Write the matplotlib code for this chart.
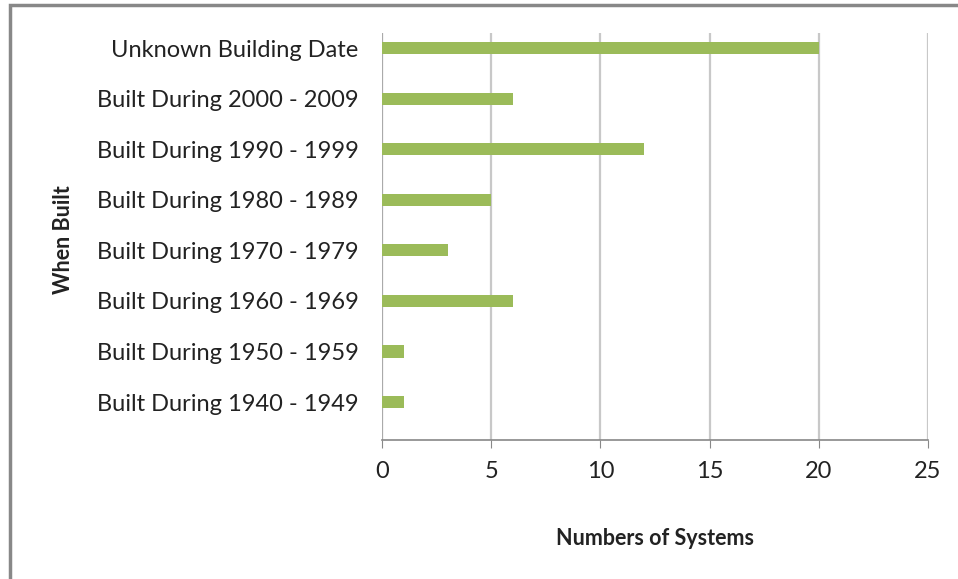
import matplotlib.pyplot as plt
from matplotlib.patches import Rectangle

categories = ["Built During 1940 - 1949", "Built During 1950 - 1959",
              "Built During 1960 - 1969", "Built During 1970 - 1979",
              "Built During 1980 - 1989", "Built During 1990 - 1999",
              "Built During 2000 - 2009", "Unknown Building Date"]
counts = [1, 1, 6, 3, 5, 12, 6, 20]
xticks = [0, 5, 10, 15, 20, 25]

plt.rcParams['font.family'] = ['Lato', 'DejaVu Sans']

fig = plt.figure(figsize=(9.58, 5.79), dpi=100)
ax = fig.add_axes([382/958, 1-440/579, (928-382)/958, (440-33)/579])

ax.barh(range(len(categories)), counts, height=0.24, color='#9bbb59', zorder=3)
# bars sit slightly above the centre of each category band, like the Excel original
ax.set_ylim(-0.75, 7.30)
ax.set_xlim(0, 25)
ax.set_xticks(xticks)
ax.set_yticks(range(len(categories)))
ax.set_yticklabels(categories, fontsize=17, color='#222222')
ax.tick_params(axis='y', length=0, pad=17)
ax.tick_params(axis='x', length=6, color='#888888', labelsize=17, labelcolor='#222222', pad=9)

ax.grid(axis='x', color='#c8c8c8', linewidth=1.6, zorder=0)
for s in ['top', 'right', 'left']:
    ax.spines[s].set_visible(False)
ax.spines['bottom'].set_color('#888888')
ax.spines['bottom'].set_linewidth(1.2)
ax.axvline(0, color='#aaaaaa', linewidth=1.5, zorder=2)

ax.set_xlabel("Numbers of Systems", fontsize=15.5, fontweight='bold', labelpad=33, color='#222222')
fig.text(63/958, 1-240/579, "When Built", rotation=90, fontsize=15.5, fontweight='bold',
         ha='center', va='center', color='#222222')

# outer chart border
fig.patches.append(Rectangle((10/958, -0.05), 1.1, 1-5/579+0.05, transform=fig.transFigure,
                             fill=False, edgecolor='#888888', linewidth=2.5))

fig.savefig("out.png", dpi=100, facecolor='white')
